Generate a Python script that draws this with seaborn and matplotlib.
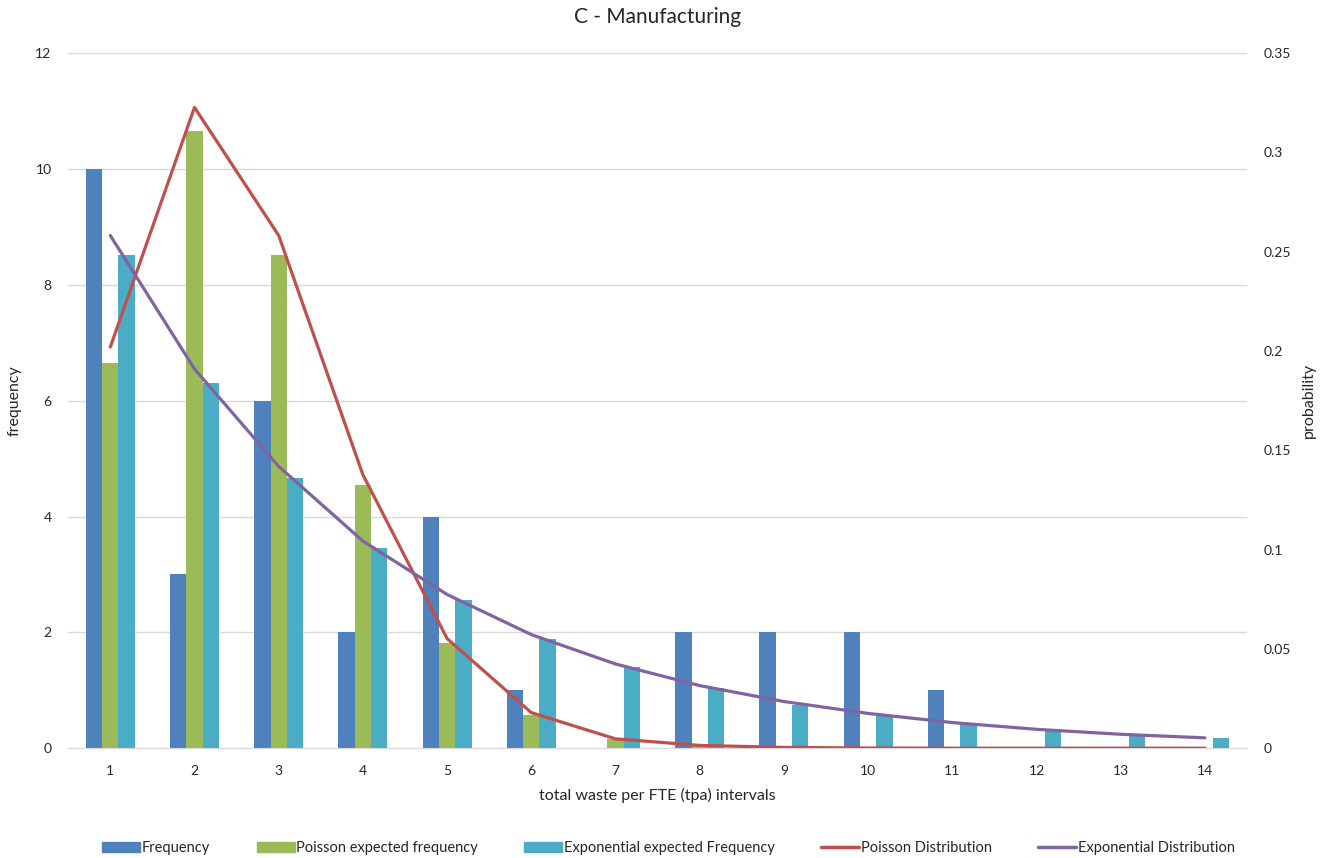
import numpy as np
import pandas as pd
import matplotlib.pyplot as plt
import seaborn as sns
from matplotlib.patches import Patch
from matplotlib.lines import Line2D

intervals = [str(i) for i in range(1, 15)]
frequency = [10, 3, 6, 2, 4, 1, 0, 2, 2, 2, 1, 0, 0, 0]
poisson_freq = [6.65, 10.65, 8.52, 4.54, 1.81, 0.58, 0.15, 0.04, 0.01, 0, 0, 0, 0, 0]
expon_freq = [8.51, 6.30, 4.67, 3.46, 2.56, 1.89, 1.41, 1.04, 0.75, 0.56, 0.42, 0.31, 0.23, 0.17]
poisson_prob = [0.202, 0.3227, 0.2582, 0.1377, 0.0552, 0.0179, 0.0047, 0.0014, 0.0004, 0.0001, 0, 0, 0, 0]
expon_prob = [0.2582, 0.191, 0.1419, 0.1043, 0.0774, 0.0572, 0.0424, 0.0315, 0.0235, 0.0175, 0.0129, 0.0095, 0.007, 0.0052]

bar_names = ['Frequency', 'Poisson expected frequency', 'Exponential expected Frequency']
bar_colors = ['#4F81BD', '#9BBB59', '#4BACC6']
line_colors = ['#C0504D', '#8064A2']

sns.set_style('white')
plt.rcParams['font.family'] = ['Lato', 'DejaVu Sans']

df = pd.DataFrame({'interval': intervals * 3,
                   'value': frequency + poisson_freq + expon_freq,
                   'series': np.repeat(bar_names, len(intervals))})

fig = plt.figure(figsize=(13.37, 8.58), dpi=100)
ax = fig.add_axes([0.051, 0.128, 0.8817, 0.81])

sns.barplot(data=df, x='interval', y='value', hue='series', order=intervals,
            hue_order=bar_names, palette=bar_colors, width=0.58,
            saturation=1, edgecolor='none', ax=ax, legend=False)
ax.set_ylim(0, 12)
ax.set_yticks(range(0, 13, 2))
ax.set_xlim(-0.5, len(intervals) - 0.5)
ax.yaxis.grid(True, color='#D9D9D9', linewidth=1)
ax.set_axisbelow(True)
for s in ['top', 'right', 'left']:
    ax.spines[s].set_visible(False)
ax.spines['bottom'].set_color('#D9D9D9')
ax.tick_params(axis='both', length=0, labelsize=10, pad=12)
ax.set_xlabel('total waste per FTE (tpa) intervals', fontsize=11.5, labelpad=8)
ax.set_ylabel('frequency', fontsize=11.5, labelpad=10)

ax2 = ax.twinx()
pos = np.arange(len(intervals))
sns.lineplot(x=pos, y=poisson_prob, color=line_colors[0], linewidth=2.3, ax=ax2)
sns.lineplot(x=pos, y=expon_prob, color=line_colors[1], linewidth=2.3, ax=ax2)
ax2.set_ylim(0, 0.35)
ax2.set_yticks([0, 0.05, 0.1, 0.15, 0.2, 0.25, 0.3, 0.35])
ax2.set_yticklabels(['0', '0.05', '0.1', '0.15', '0.2', '0.25', '0.3', '0.35'])
for s in ['top', 'right', 'left', 'bottom']:
    ax2.spines[s].set_visible(False)
ax2.tick_params(axis='y', length=0, labelsize=10, pad=12)
ax2.set_ylabel('probability', fontsize=11.5, labelpad=8)

ax.set_title('C - Manufacturing', fontsize=15, pad=22)

handles = [Patch(color=c, label=n) for c, n in zip(bar_colors, bar_names)]
handles += [Line2D([0], [0], color=line_colors[0], lw=2.5, label='Poisson Distribution'),
            Line2D([0], [0], color=line_colors[1], lw=2.5, label='Exponential Distribution')]
fig.legend(handles=handles, loc='lower center', ncol=5, frameon=False,
           fontsize=10.5, bbox_to_anchor=(0.5, -0.012), columnspacing=3.2,
           handlelength=2.6, handletextpad=0.1, handleheight=0.7)

fig.savefig('out.png', dpi=100)
